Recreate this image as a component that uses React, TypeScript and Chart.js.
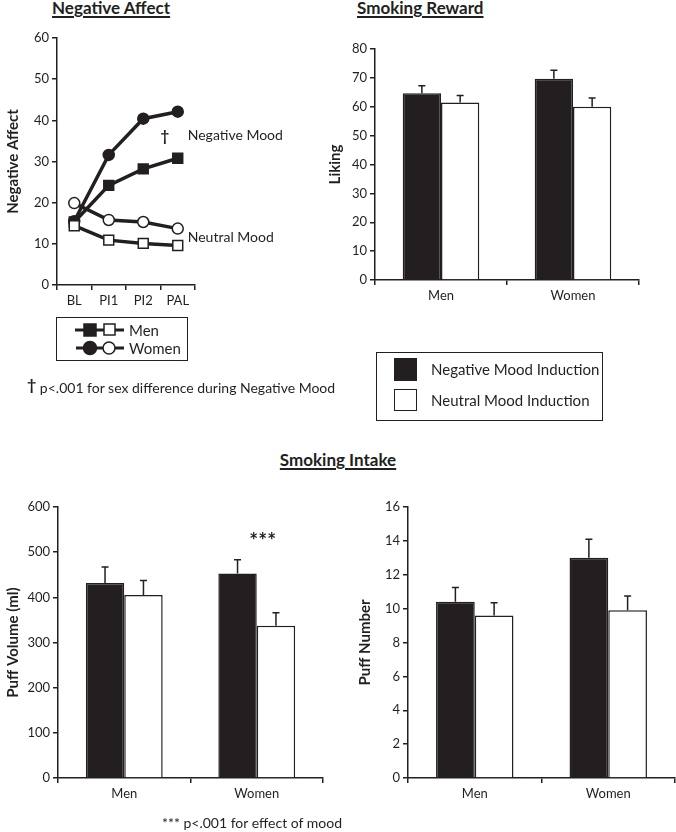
import React, { useEffect, useRef } from 'react';
import { Chart, registerables } from 'chart.js';

Chart.register(...registerables);

const FONT = 'Lato, "Open Sans", "DejaVu Sans", sans-serif';
const INK = '#231f20';

// ---- Negative Affect panel (line chart) ----
const timepoints = ['BL', 'PI1', 'PI2', 'PAL'];
const menNegativeMood = [15.3, 24.2, 28.2, 30.8];
const womenNegativeMood = [15.5, 31.6, 40.4, 42.1];
const menNeutralMood = [14.4, 10.9, 10.1, 9.6];
const womenNeutralMood = [19.9, 15.8, 15.3, 13.7];

// ---- Bar panels ----
const sexes = ['Men', 'Women'];
const likingNegative = [64.7, 69.7];
const likingNegativeSE = [2.6, 2.9];
const likingNeutral = [61.5, 60.0];
const likingNeutralSE = [2.4, 3.0];

const volumeNegative = [432, 453];
const volumeNegativeSE = [35, 30];
const volumeNeutral = [405, 337];
const volumeNeutralSE = [32, 29];

const puffNegative = [10.4, 13.0];
const puffNegativeSE = [0.85, 1.1];
const puffNeutral = [9.6, 9.9];
const puffNeutralSE = [0.75, 0.85];

const tickFont = { family: FONT, size: 13 };
const titleFont = { family: FONT, size: 15, weight: 'bold' as const };

function axisX(height: number) {
  return {
    offset: true,
    grid: { drawOnChartArea: false, drawTicks: true, tickLength: 5, color: INK, lineWidth: 1.5, offset: true },
    border: { display: true, color: INK, width: 1.5 },
    ticks: { color: INK, font: tickFont, padding: 3, maxRotation: 0 },
    afterFit: (s: any) => { s.height = height; },
  };
}

function axisY(max: number, step: number, title: string, width: number, titlePad: number) {
  return {
    min: 0,
    max,
    grid: { drawOnChartArea: false, drawTicks: true, tickLength: 5, color: INK, lineWidth: 1.5 },
    border: { display: true, color: INK, width: 1.5 },
    ticks: { stepSize: step, color: INK, font: tickFont, padding: 3 },
    title: { display: true, text: title, color: INK, font: titleFont, padding: { top: titlePad, bottom: 0 } },
    afterFit: (s: any) => { s.width = width; },
  };
}

const errorBarPlugin = {
  id: 'errorBars',
  afterDatasetsDraw(chart: any, _args: any, opts: any) {
    const errs: number[][] = opts.errors || [];
    const ctx = chart.ctx;
    const y = chart.scales.y;
    chart.data.datasets.forEach((ds: any, di: number) => {
      const e = errs[di];
      if (!e) return;
      const meta = chart.getDatasetMeta(di);
      meta.data.forEach((bar: any, i: number) => {
        const x = bar.x;
        const top = y.getPixelForValue(ds.data[i]);
        const end = y.getPixelForValue(ds.data[i] + e[i]);
        ctx.save();
        ctx.strokeStyle = INK;
        ctx.lineWidth = 1.5;
        ctx.beginPath();
        ctx.moveTo(x, top);
        ctx.lineTo(x, end);
        ctx.moveTo(x - 3.5, end);
        ctx.lineTo(x + 3.5, end);
        ctx.stroke();
        ctx.restore();
      });
    });
    if (opts.stars) {
      const x = chart.scales.x.getPixelForValue(opts.stars.index) + 6;
      const yy = y.getPixelForValue(opts.stars.value);
      ctx.save();
      ctx.fillStyle = INK;
      ctx.font = `bold 21px ${FONT}`;
      ctx.textAlign = 'center';
      ctx.textBaseline = 'alphabetic';
      ctx.fillText(opts.stars.text, x, yy + 12);
      ctx.restore();
    }
  },
};

const moodLabelPlugin = {
  id: 'moodLabels',
  afterDatasetsDraw(chart: any) {
    const { ctx, scales } = chart;
    const x = scales.x;
    const y = scales.y;
    const xLast = x.getPixelForValue(timepoints.length - 1);
    ctx.save();
    ctx.fillStyle = INK;
    ctx.textBaseline = 'middle';
    ctx.font = `14px ${FONT}`;
    ctx.textAlign = 'left';
    ctx.fillText('Negative Mood', xLast + 10, y.getPixelForValue(36.2));
    ctx.fillText('Neutral Mood', xLast + 10, y.getPixelForValue(11.6));
    ctx.font = `bold 15px ${FONT}`;
    ctx.textAlign = 'center';
    ctx.fillText('†', xLast - 13, y.getPixelForValue(36.2));
    ctx.restore();
  },
};

function CanvasChart({ left, top, width, height, config }: any) {
  const ref = useRef<HTMLCanvasElement>(null);
  useEffect(() => {
    if (!ref.current) return;
    const chart = new Chart(ref.current, config);
    return () => chart.destroy();
  }, []);
  return (
    <canvas
      ref={ref}
      width={width}
      height={height}
      style={{ position: 'absolute', left, top, width, height }}
    />
  );
}

function lineDataset(label: string, data: number[], style: string, filled: boolean) {
  return {
    label,
    data,
    borderColor: INK,
    borderWidth: 3.5,
    pointStyle: style,
    pointRadius: style === 'rect' ? 7 : 5.5,
    pointBackgroundColor: filled ? INK : '#ffffff',
    pointBorderColor: INK,
    pointBorderWidth: 1.5,
    tension: 0,
    fill: false,
  };
}

const lineConfig = {
  type: 'line',
  data: {
    labels: timepoints,
    datasets: [
      lineDataset('Men – Neutral Mood', menNeutralMood, 'rect', false),
      lineDataset('Women – Neutral Mood', womenNeutralMood, 'circle', false),
      lineDataset('Men – Negative Mood', menNegativeMood, 'rect', true),
      lineDataset('Women – Negative Mood', womenNegativeMood, 'circle', true),
    ],
  },
  options: {
    responsive: false,
    animation: false,
    layout: { padding: { top: 38, right: 105, bottom: 0, left: 0 } },
    plugins: { legend: { display: false }, tooltip: { enabled: false } },
    scales: {
      x: axisX(25),
      y: axisY(60, 10, 'Negative Affect', 57, 4),
    },
  },
  plugins: [moodLabelPlugin],
};

function barConfig(p: any) {
  return {
    type: 'bar',
    data: {
      labels: sexes,
      datasets: [
        {
          label: 'Negative Mood Induction',
          data: p.neg,
          backgroundColor: INK,
          borderColor: INK,
          borderWidth: 1.5,
          categoryPercentage: 0.58,
          barPercentage: 1,
        },
        {
          label: 'Neutral Mood Induction',
          data: p.neu,
          backgroundColor: '#ffffff',
          borderColor: INK,
          borderWidth: 1.5,
          categoryPercentage: 0.58,
          barPercentage: 1,
        },
      ],
    },
    options: {
      responsive: false,
      animation: false,
      layout: { padding: { top: p.padTop, right: p.padRight, bottom: 0, left: 0 } },
      plugins: {
        legend: { display: false },
        tooltip: { enabled: false },
        errorBars: { errors: [p.negSE, p.neuSE], stars: p.stars },
      },
      scales: {
        x: axisX(p.xHeight),
        y: axisY(p.max, p.step, p.title, p.yWidth, p.titlePad),
      },
    },
    plugins: [errorBarPlugin],
  };
}

const likingConfig = barConfig({
  neg: likingNegative, negSE: likingNegativeSE, neu: likingNeutral, neuSE: likingNeutralSE,
  max: 80, step: 10, title: 'Liking', yWidth: 55, titlePad: 6, padTop: 49, padRight: 37, xHeight: 30,
});

const volumeConfig = barConfig({
  neg: volumeNegative, negSE: volumeNegativeSE, neu: volumeNeutral, neuSE: volumeNeutralSE,
  max: 600, step: 100, title: 'Puff Volume (ml)', yWidth: 58, titlePad: 4, padTop: 37, padRight: 17, xHeight: 32,
  stars: { index: 1, value: 536, text: '***' },
});

const puffConfig = barConfig({
  neg: puffNegative, negSE: puffNegativeSE, neu: puffNeutral, neuSE: puffNeutralSE,
  max: 16, step: 2, title: 'Puff Number', yWidth: 68, titlePad: 16, padTop: 37, padRight: 1, xHeight: 32,
});

const heading: React.CSSProperties = {
  position: 'absolute',
  fontSize: 17,
  fontWeight: 'bold',
  textDecoration: 'underline',
  textDecorationThickness: '1.5px',
  textUnderlineOffset: '2px',
  lineHeight: '20px',
  whiteSpace: 'nowrap',
  color: INK,
};

const text15: React.CSSProperties = {
  position: 'absolute',
  fontSize: 15,
  lineHeight: '18px',
  whiteSpace: 'nowrap',
  color: INK,
};

const text14: React.CSSProperties = {
  position: 'absolute',
  fontSize: 14,
  lineHeight: '18px',
  whiteSpace: 'nowrap',
  color: INK,
};

export default function App() {
  return (
    <div
      style={{
        position: 'absolute',
        left: 0,
        top: 0,
        width: 676,
        height: 832,
        background: '#ffffff',
        fontFamily: FONT,
        overflow: 'hidden',
      }}
    >
      <div style={{ ...heading, left: 52, top: -2 }}>Negative Affect</div>
      <div style={{ ...heading, left: 357, top: -2 }}>Smoking Reward</div>
      <div style={{ ...heading, left: 0, width: 676, textAlign: 'center', top: 450 }}>Smoking Intake</div>

      <CanvasChart left={0} top={0} width={300} height={310} config={lineConfig} />
      <CanvasChart left={320} top={0} width={356} height={310} config={likingConfig} />
      <CanvasChart left={0} top={470} width={340} height={340} config={volumeConfig} />
      <CanvasChart left={340} top={470} width={336} height={340} config={puffConfig} />

      {/* Line chart legend */}
      <div
        style={{
          position: 'absolute', left: 56, top: 317, width: 132, height: 44,
          border: `1.5px solid ${INK}`, boxSizing: 'border-box',
        }}
      />
      <svg width={676} height={832} style={{ position: 'absolute', left: 0, top: 0 }}>
        <line x1={75} y1={330} x2={124} y2={330} stroke={INK} strokeWidth={3} />
        <rect x={84} y={324} width={12} height={12} fill={INK} stroke={INK} strokeWidth={1.5} />
        <rect x={104} y={324} width={11} height={11} fill="#fff" stroke={INK} strokeWidth={1.5} />
        <line x1={76} y1={348} x2={124} y2={348} stroke={INK} strokeWidth={3} />
        <circle cx={90} cy={348} r={6.5} fill={INK} stroke={INK} strokeWidth={1.5} />
        <circle cx={109} cy={348} r={6} fill="#fff" stroke={INK} strokeWidth={1.5} />
      </svg>
      <div style={{ ...text15, left: 129, top: 321 }}>Men</div>
      <div style={{ ...text15, left: 129, top: 339 }}>Women</div>

      <div style={{ ...text14, left: 27, top: 378 }}>
        <span style={{ fontWeight: 'bold', fontSize: 16, position: 'relative', top: -3 }}>†</span> p&lt;.001 for sex difference during Negative Mood
      </div>

      {/* Bar legend */}
      <div
        style={{
          position: 'absolute', left: 376, top: 352, width: 227, height: 69,
          border: `1.5px solid ${INK}`, boxSizing: 'border-box',
        }}
      />
      <div style={{ position: 'absolute', left: 394, top: 358, width: 23, height: 23, background: INK, border: `1.5px solid ${INK}`, boxSizing: 'border-box' }} />
      <div style={{ position: 'absolute', left: 394, top: 389, width: 23, height: 22, background: '#fff', border: `1.5px solid ${INK}`, boxSizing: 'border-box' }} />
      <div style={{ ...text15, left: 431, top: 360 }}>Negative Mood Induction</div>
      <div style={{ ...text15, left: 431, top: 391 }}>Neutral Mood Induction</div>

      <div style={{ ...text14, left: 162, top: 814 }}>*** p&lt;.001 for effect of mood</div>
    </div>
  );
}
